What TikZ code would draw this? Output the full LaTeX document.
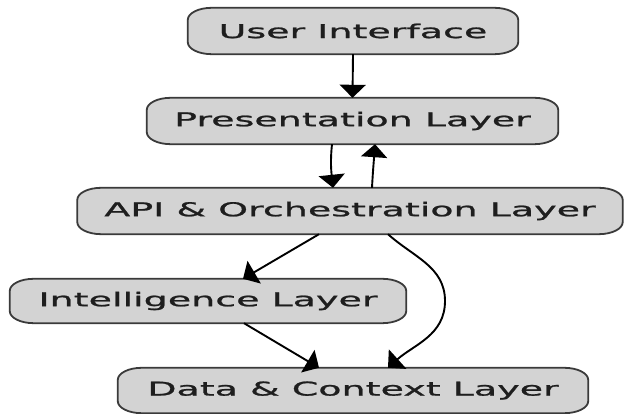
\documentclass[tikz,border=0pt]{standalone}
\usepackage{fontspec}
\newfontfamily\layfont[FakeStretch=2.0,FakeBold=1.2]{DejaVu Sans}
\usetikzlibrary{arrows.meta,calc}
\pgfdeclarelayer{background}
\pgfsetlayers{background,main}
\definecolor{boxfill}{HTML}{D3D3D3}
\definecolor{boxedge}{HTML}{3A3A3A}
\definecolor{txt}{HTML}{1E1E1E}
\tikzset{
  layer/.style={inner sep=0pt, text=txt, font=\layfont\fontsize{19}{19}\selectfont},
  boxline/.style={draw=boxedge, fill=boxfill, line width=1.8pt},
  edge/.style={draw=black, line width=1.9pt, -{Triangle[length=13pt,width=26pt]}}
}
\newcommand\layerbox[6]{%
  \node[layer, minimum width=#4pt, minimum height=#5pt] (#1) at (#2pt,#3pt) {#6};
  \begin{pgfonlayer}{background}
  \draw[boxline]
    ($(#1.north west)+(24pt,0)$) -- ($(#1.north east)+(-24pt,0)$)
    arc[start angle=90,end angle=0,x radius=24pt,y radius=12pt]
    -- ($(#1.south east)+(0,12pt)$)
    arc[start angle=0,end angle=-90,x radius=24pt,y radius=12pt]
    -- ($(#1.south west)+(24pt,0)$)
    arc[start angle=270,end angle=180,x radius=24pt,y radius=12pt]
    -- ($(#1.north west)+(0,-12pt)$)
    arc[start angle=180,end angle=90,x radius=24pt,y radius=12pt]
    -- cycle;
  \end{pgfonlayer}}
\begin{document}
\begin{tikzpicture}[x=1pt,y=1pt]
\useasboundingbox (0,0) rectangle (624,414);
\layerbox{ui}{353}{383}{330}{46}{User Interface}
\layerbox{pres}{352.5}{293}{411}{46}{Presentation Layer}
\layerbox{api}{350}{203}{545}{46}{API \& Orchestration Layer}
\layerbox{intel}{208}{113}{396}{44}{Intelligence Layer}
\layerbox{data}{353}{23.5}{470}{45}{Data \& Context Layer}
\coordinate (bend) at (445,113);
\draw[edge] (ui.south) -- (pres.north);
\draw[edge] ([xshift=-20.5pt]pres.south) to[out=-96,in=96] ([xshift=-17pt]api.north);
\draw[edge] ([xshift=22pt]api.north) to[out=87,in=-94] ([xshift=22.5pt]pres.south);
\draw[edge] ([xshift=-31pt]api.south) -- ([xshift=35pt]intel.north);
\draw[edge] ([xshift=38pt]api.south) to[out=-42,in=90] (bend) to[out=-90,in=42] ([xshift=35pt]data.north);
\draw[edge] ([xshift=36pt]intel.south) -- ([xshift=-34pt]data.north);
\end{tikzpicture}
\end{document}
